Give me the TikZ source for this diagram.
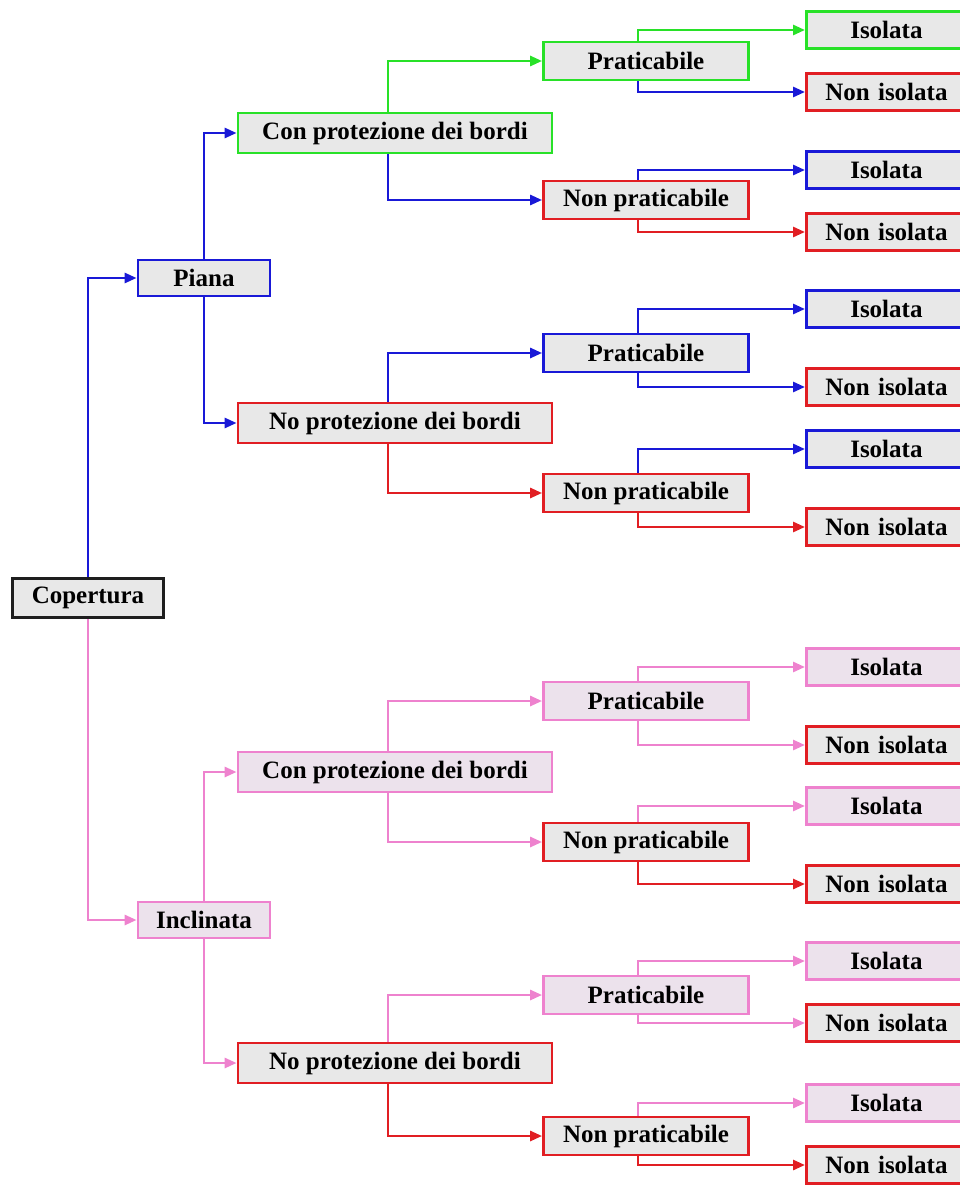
\documentclass[tikz,border=0pt]{standalone}
\usepackage{fontspec}
\setmainfont{Liberation Serif}
\usepackage{tikz}
\usepackage{xcolor}
\usetikzlibrary{positioning, arrows.meta}
\definecolor{cvgreen}{RGB}{40, 225, 40}
\definecolor{cvblue}{RGB}{25, 25, 215}
\definecolor{cvred}{RGB}{225, 30, 35}
\definecolor{cvpink}{RGB}{238, 130, 206}
\definecolor{cvblack}{RGB}{30, 30, 30}
\definecolor{cvfill}{RGB}{232, 232, 232}
\definecolor{cvpinkfill}{RGB}{236, 226, 236}
\tikzset{
    cvnode/.style={rectangle, draw, line width=2.8pt, fill=cvfill, inner sep=0pt,
        font=\fontsize{25}{27}\selectfont\bfseries, text=black},
    greennode/.style={cvnode, draw=cvgreen},
    bluenode/.style={cvnode, draw=cvblue},
    rednode/.style={cvnode, draw=cvred},
    pinknode/.style={cvnode, draw=cvpink, fill=cvpinkfill},
    blacknode/.style={cvnode, draw=cvblack, line width=3.6pt},
    rootsize/.style={minimum width=151pt, minimum height=39pt},
    typesize/.style={minimum width=132pt, minimum height=36pt},
    edgesize/.style={minimum width=314pt, minimum height=40pt},
    usesize/.style={minimum width=205pt, minimum height=38pt},
    leafsize/.style={minimum width=160pt, minimum height=37pt, anchor=west, text width=153pt, align=center},
    cvlink/.style={line width=2.7pt, -{Triangle[length=12pt, width=10pt]}},
    greenlink/.style={cvlink, draw=cvgreen},
    bluelink/.style={cvlink, draw=cvblue},
    redlink/.style={cvlink, draw=cvred},
    pinklink/.style={cvlink, draw=cvpink}
}
\begin{document}
\begin{tikzpicture}[x=1pt, y=-1pt]
    \useasboundingbox (0,0) rectangle (960,1185);
    % root and first split
    \node[blacknode, rootsize] (copertura) at (88,598) {Copertura};
    \node[bluenode, typesize] (piana) at (204,278) {Piana};
    \node[pinknode, typesize] (inclinata) at (204,920) {Inclinata};
    % edge protection
    \node[greennode, edgesize] (conpiana) at (395,133) {Con protezione dei bordi};
    \node[rednode, edgesize] (nopiana) at (395,423) {No protezione dei bordi};
    \node[pinknode, edgesize] (conincl) at (395,772) {Con protezione dei bordi};
    \node[rednode, edgesize] (noincl) at (395,1063) {No protezione dei bordi};
    % walkable or not
    \node[greennode, usesize] (prat1) at (646,61) {Praticabile};
    \node[rednode, usesize] (nonprat1) at (646,200) {Non praticabile};
    \node[bluenode, usesize] (prat2) at (646,353) {Praticabile};
    \node[rednode, usesize] (nonprat2) at (646,493) {Non praticabile};
    \node[pinknode, usesize] (prat3) at (646,701) {Praticabile};
    \node[rednode, usesize] (nonprat3) at (646,842) {Non praticabile};
    \node[pinknode, usesize] (prat4) at (646,995) {Praticabile};
    \node[rednode, usesize] (nonprat4) at (646,1136) {Non praticabile};
    % insulated or not
    \node[greennode, leafsize] (iso1) at (805,30) {Isolata};
    \node[rednode, leafsize] (noniso1) at (805,92) {Non isolata};
    \node[bluenode, leafsize] (iso2) at (805,170) {Isolata};
    \node[rednode, leafsize] (noniso2) at (805,232) {Non isolata};
    \node[bluenode, leafsize] (iso3) at (805,309) {Isolata};
    \node[rednode, leafsize] (noniso3) at (805,387) {Non isolata};
    \node[bluenode, leafsize] (iso4) at (805,449) {Isolata};
    \node[rednode, leafsize] (noniso4) at (805,527) {Non isolata};
    \node[pinknode, leafsize] (iso5) at (805,667) {Isolata};
    \node[rednode, leafsize] (noniso5) at (805,745) {Non isolata};
    \node[pinknode, leafsize] (iso6) at (805,806) {Isolata};
    \node[rednode, leafsize] (noniso6) at (805,884) {Non isolata};
    \node[pinknode, leafsize] (iso7) at (805,961) {Isolata};
    \node[rednode, leafsize] (noniso7) at (805,1023) {Non isolata};
    \node[pinknode, leafsize] (iso8) at (805,1103) {Isolata};
    \node[rednode, leafsize] (noniso8) at (805,1165) {Non isolata};
    % connectors
    \draw[bluelink] (copertura.north) |- (piana.west);
    \draw[pinklink] (copertura.south) |- (inclinata.west);
    \draw[bluelink] (piana.north) |- (conpiana.west);
    \draw[bluelink] (piana.south) |- (nopiana.west);
    \draw[pinklink] (inclinata.north) |- (conincl.west);
    \draw[pinklink] (inclinata.south) |- (noincl.west);
    \draw[greenlink] ([xshift=-7pt]conpiana.north) |- (prat1.west);
    \draw[bluelink] ([xshift=-7pt]conpiana.south) |- (nonprat1.west);
    \draw[bluelink] ([xshift=-7pt]nopiana.north) |- (prat2.west);
    \draw[redlink] ([xshift=-7pt]nopiana.south) |- (nonprat2.west);
    \draw[pinklink] ([xshift=-7pt]conincl.north) |- (prat3.west);
    \draw[pinklink] ([xshift=-7pt]conincl.south) |- (nonprat3.west);
    \draw[pinklink] ([xshift=-7pt]noincl.north) |- (prat4.west);
    \draw[redlink] ([xshift=-7pt]noincl.south) |- (nonprat4.west);
    \draw[greenlink] ([xshift=-8pt]prat1.north) |- (iso1.west);
    \draw[bluelink] ([xshift=-8pt]prat1.south) |- (noniso1.west);
    \draw[bluelink] ([xshift=-8pt]nonprat1.north) |- (iso2.west);
    \draw[redlink] ([xshift=-8pt]nonprat1.south) |- (noniso2.west);
    \draw[bluelink] ([xshift=-8pt]prat2.north) |- (iso3.west);
    \draw[bluelink] ([xshift=-8pt]prat2.south) |- (noniso3.west);
    \draw[bluelink] ([xshift=-8pt]nonprat2.north) |- (iso4.west);
    \draw[redlink] ([xshift=-8pt]nonprat2.south) |- (noniso4.west);
    \draw[pinklink] ([xshift=-8pt]prat3.north) |- (iso5.west);
    \draw[pinklink] ([xshift=-8pt]prat3.south) |- (noniso5.west);
    \draw[pinklink] ([xshift=-8pt]nonprat3.north) |- (iso6.west);
    \draw[redlink] ([xshift=-8pt]nonprat3.south) |- (noniso6.west);
    \draw[pinklink] ([xshift=-8pt]prat4.north) |- (iso7.west);
    \draw[pinklink] ([xshift=-8pt]prat4.south) |- (noniso7.west);
    \draw[pinklink] ([xshift=-8pt]nonprat4.north) |- (iso8.west);
    \draw[redlink] ([xshift=-8pt]nonprat4.south) |- (noniso8.west);
\end{tikzpicture}
\end{document}
